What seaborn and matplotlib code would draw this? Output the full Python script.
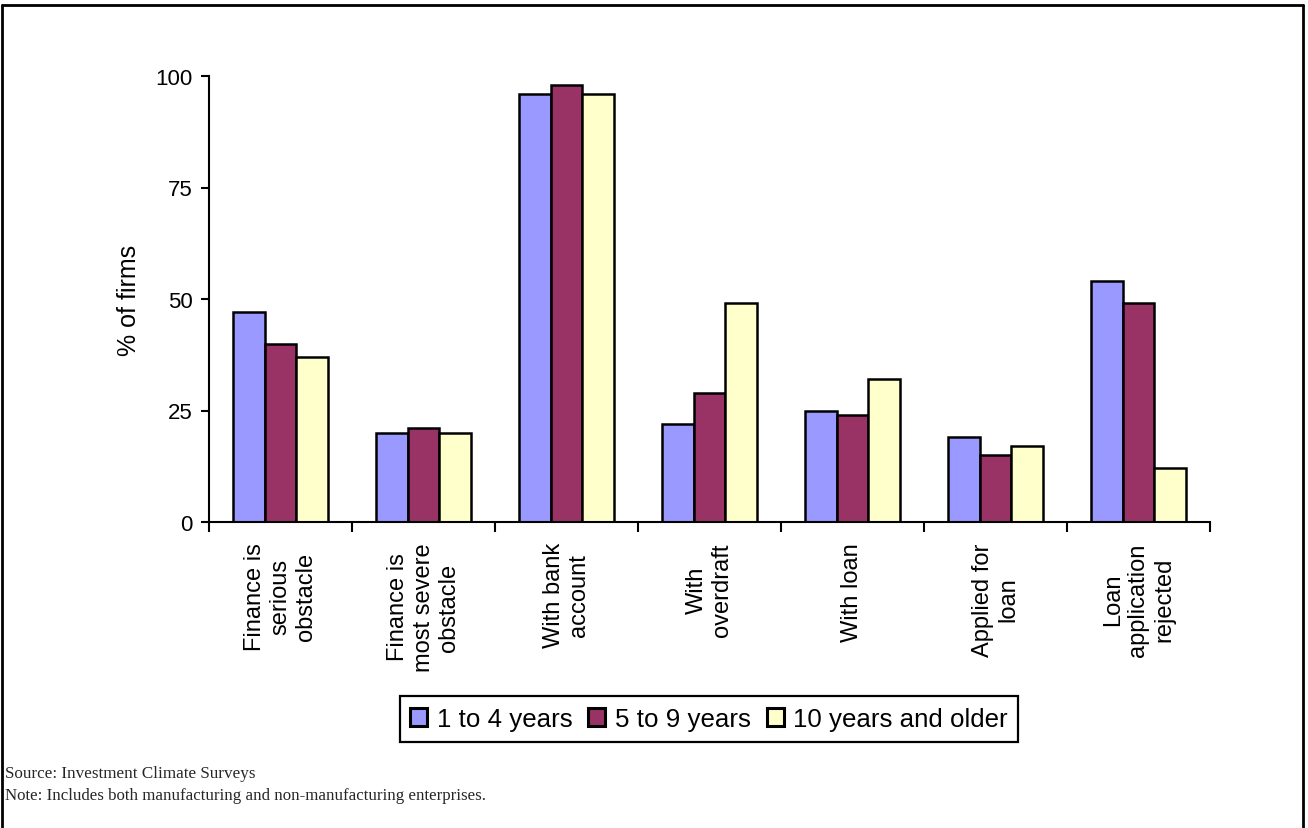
import matplotlib
matplotlib.use("Agg")
import matplotlib.pyplot as plt
from matplotlib.lines import Line2D
from matplotlib.ticker import FixedLocator
import seaborn as sns
import pandas as pd

categories = [
    "Finance is\nserious\nobstacle",
    "Finance is\nmost severe\nobstacle",
    "With bank\naccount",
    "With\noverdraft",
    "With loan",
    "Applied for\nloan",
    "Loan\napplication\nrejected",
]
age_groups = ["1 to 4 years", "5 to 9 years", "10 years and older"]
young = [47, 20, 96, 22, 25, 19, 54]
middle = [40, 21, 98, 29, 24, 15, 49]
older = [37, 20, 96, 49, 32, 17, 12]
yticks = [0, 25, 50, 75, 100]

colors = ["#9999FF", "#993366", "#FFFFCC"]

rows = []
for grp, vals in zip(age_groups, [young, middle, older]):
    for cat, v in zip(categories, vals):
        rows.append({"category": cat, "age": grp, "share": v})
df = pd.DataFrame(rows)

sns.set_theme(style="white")
plt.rcParams["font.family"] = ["Liberation Sans", "DejaVu Sans"]

fig = plt.figure(figsize=(13.08, 8.29), dpi=100)
ax = fig.add_axes([209 / 1308, 1 - 523 / 829, (1210 - 209) / 1308, (523 - 77) / 829])

sns.barplot(data=df, x="category", y="share", hue="age", order=categories,
            hue_order=age_groups, palette=colors, width=0.67, gap=0,
            edgecolor="black", linewidth=1.8, saturation=1, ax=ax)

ax.set_xlim(-0.5, len(categories) - 0.5)
ax.set_ylim(0, 100)
ax.set_yticks(yticks)
ax.set_yticklabels([str(t) for t in yticks], fontsize=16, color="black")
ax.set_ylabel("% of firms", fontsize=18, labelpad=10, color="black")
ax.set_xlabel("")

ax.set_xticks(range(len(categories)))
ax.set_xticklabels(categories, rotation=90, fontsize=17, ha="center",
                   va="top", multialignment="center", linespacing=1.2,
                   color="black")
ax.tick_params(axis="x", which="major", length=0, pad=14.5)
ax.xaxis.set_minor_locator(FixedLocator([i - 0.5 for i in range(len(categories) + 1)]))
ax.tick_params(axis="x", which="minor", bottom=True, direction="out",
               length=7, width=1.5, color="black")
ax.tick_params(axis="y", left=True, direction="out", length=6, width=1.5,
               color="black", pad=6)

for side in ["top", "right"]:
    ax.spines[side].set_visible(False)
for side in ["left", "bottom"]:
    ax.spines[side].set_color("black")
    ax.spines[side].set_linewidth(1.5)

handles, labels = ax.get_legend_handles_labels()
ax.legend_.remove()
leg = fig.legend(handles, labels, loc="center", bbox_to_anchor=(709 / 1308, 1 - 720 / 829),
                 ncol=3, fontsize=18.6, frameon=True, fancybox=False, framealpha=1,
                 edgecolor="black", handlelength=0.66, handleheight=0.66,
                 handletextpad=0.36, columnspacing=0.62, borderpad=0.42,
                 labelcolor="black")
leg.get_frame().set_linewidth(1.6)
for h in leg.legend_handles:
    h.set_linewidth(2.2)

fig.text(5 / 1308, 1 - 774 / 829, "Source: Investment Climate Surveys",
         family="Liberation Serif", fontsize=12.3, va="center", ha="left")
fig.text(5 / 1308, 1 - 796 / 829,
         "Note: Includes both manufacturing and non-manufacturing enterprises.",
         family="Liberation Serif", fontsize=12.2, va="center", ha="left")

# frame around the panel
frame_kw = dict(color="black", linewidth=2, transform=fig.transFigure)
top_y = 1 - 6 / 829
left_x = 1.5 / 1308
right_x = 1303 / 1308
fig.add_artist(Line2D([left_x, right_x], [top_y, top_y], **frame_kw))
fig.add_artist(Line2D([left_x, left_x], [0, top_y], **frame_kw))
fig.add_artist(Line2D([right_x, right_x], [0, top_y], **frame_kw))

fig.savefig("out.png", dpi=100, facecolor="white")
